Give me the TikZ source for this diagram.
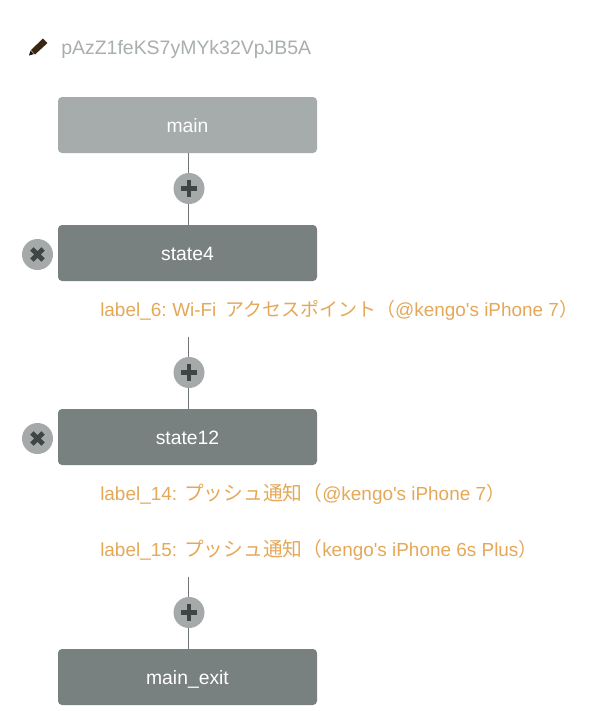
\documentclass[tikz,border=0pt]{standalone}
\usepackage{fontspec}
\setmainfont{Liberation Sans}
\newfontfamily\cjk{Noto Sans CJK JP}
\newfontfamily\plainsans{Liberation Sans}
\newcommand{\apos}{{\plainsans '}}
\newcommand{\colsp}{\hspace{-1pt}}
\newcommand{\widecjk}{\cjk\fontsize{14.8pt}{16pt}\selectfont}
\definecolor{lightbox}{HTML}{A6ABAB}
\definecolor{darkbox}{HTML}{798080}
\definecolor{linegray}{HTML}{6F7474}
\definecolor{circgray}{HTML}{A5A9A9}
\definecolor{icongray}{HTML}{3F4444}
\definecolor{labelorange}{HTML}{E5A858}
\definecolor{idgray}{HTML}{A9AEAE}
\tikzset{
 x=0.75pt,y=-0.75pt,
 statebox/.style={draw=none,rounded corners=3pt,minimum width=194.25pt,minimum height=42pt,inner sep=0pt,text=white,text height=11.5pt,text depth=0pt,font=\fontsize{14.5pt}{16pt}\selectfont},
 mainbox/.style={statebox,fill=lightbox},
 darkstate/.style={statebox,fill=darkbox},
 conn/.style={draw=linegray,line width=0.7pt},
 roundbtn/.style={circle,fill=circgray,draw=none,minimum size=23.25pt,inner sep=0pt},
 plusbtn/.style={roundbtn,path picture={
   \draw[icongray,line width=3.7pt] ([xshift=-6.3pt]path picture bounding box.center) -- ([xshift=6.3pt]path picture bounding box.center);
   \draw[icongray,line width=3.7pt] ([yshift=-6.3pt]path picture bounding box.center) -- ([yshift=6.3pt]path picture bounding box.center);}},
 closebtn/.style={roundbtn,path picture={
   \draw[icongray,line width=3.7pt] ([shift={(-4.2pt,-4.2pt)}]path picture bounding box.center) -- ([shift={(4.2pt,4.2pt)}]path picture bounding box.center);
   \draw[icongray,line width=3.7pt] ([shift={(-4.2pt,4.2pt)}]path picture bounding box.center) -- ([shift={(4.2pt,-4.2pt)}]path picture bounding box.center);}},
 orangelabel/.style={anchor=west,inner sep=0pt,text=labelorange,font=\fontsize{14.2pt}{16pt}\selectfont},
 idlabel/.style={anchor=west,inner sep=0pt,text=idgray,font=\fontsize{14.6pt}{16pt}\selectfont},
}
\begin{document}
\begin{tikzpicture}
\useasboundingbox (0,0) rectangle (600,711);
\fill[white] (0,0) rectangle (600,711);
% pencil
\fill[black!85!brown] (29,55.5) -- (30.5,50.5) -- (34,54) -- cycle;
\fill[black!70!brown] (31,50) -- (43,38.5) -- (47.5,43) -- (35,54.5) -- cycle;
\node[idlabel] (idtext) at (61,49) {pAzZ1feKS7yMYk32VpJB5A};
% boxes
\node[mainbox] (main) at (187.5,125) {main};
\node[darkstate] (state4) at (187.5,253) {state4};
\node[darkstate] (state12) at (187.5,437) {state12};
\node[darkstate] (mainexit) at (187.5,677) {main\_exit};
% free ends
\coordinate (free1) at (188.5,337);
\coordinate (free2) at (188.5,577);
% connectors
\draw[conn] (188.5,153) -- (188.5,225);
\draw[conn] (free1) -- (188.5,409);
\draw[conn] (free2) -- (188.5,649);
% buttons
\node[plusbtn] (plusA) at (189,188.5) {};
\node[plusbtn] (plusB) at (189,372.5) {};
\node[plusbtn] (plusC) at (189,612.5) {};
\node[closebtn] (closeA) at (37.5,254.5) {};
\node[closebtn] (closeB) at (37.5,438.5) {};
% labels
\node[orangelabel] (labelsix) at (100,310) {label\_6:\colsp{} Wi-Fi\hspace{3pt} {\cjk アクセスポイント（}@kengo\apos s iPhone 7{\cjk ）}};
\node[orangelabel] (labelfourteen) at (100,494) {label\_14: {\widecjk プッシュ通知（}@kengo\apos s iPhone 7{\cjk ）}};
\node[orangelabel] (labelfifteen) at (100,550) {label\_15: {\widecjk プッシュ通知（}kengo\apos s iPhone 6s Plus{\cjk ）}};
\end{tikzpicture}
\end{document}
